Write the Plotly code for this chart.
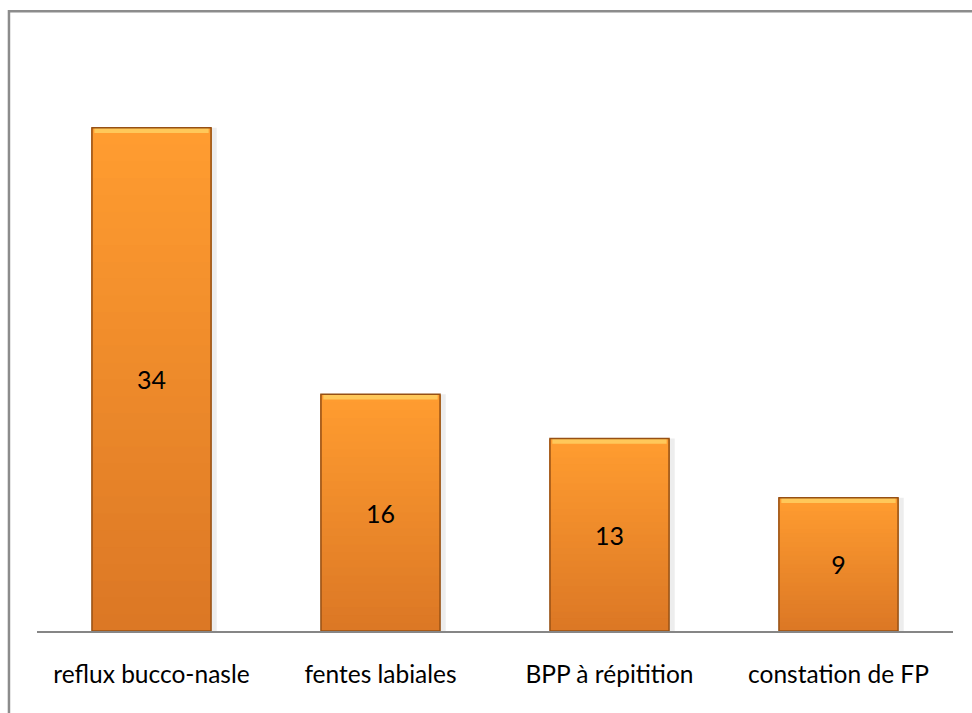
import plotly.graph_objects as go

categories = ["reflux bucco-nasle", "fentes labiales", "BPP à répitition", "constation de FP"]
values = [34, 16, 13, 9]

BAR_W = 0.52
N_BANDS = 30
BOTTOM_RGB = (220, 120, 37)
TOP_RGB = (255, 156, 48)


def mix(a, b, t):
    return "rgb({},{},{})".format(*[round(a[k] + (b[k] - a[k]) * t) for k in range(3)])


fig = go.Figure()

# soft drop shadow to the right of each bar
fig.add_trace(go.Bar(
    x=categories, y=values, width=BAR_W, offset=-BAR_W / 2 + 0.025,
    marker=dict(color="rgba(0,0,0,0.07)", line=dict(width=0)),
    hoverinfo="skip", showlegend=False,
))

# vertical gradient: each layer runs from its start height up to the bar top,
# later layers drawn over earlier ones so there are no seams
for i in range(N_BANDS):
    t = i / (N_BANDS - 1)
    fig.add_trace(go.Bar(
        x=categories,
        y=[v * (1 - i / N_BANDS) for v in values],
        base=[v * i / N_BANDS for v in values],
        width=BAR_W,
        marker=dict(color=mix(BOTTOM_RGB, TOP_RGB, t), line=dict(width=0)),
        hoverinfo="skip", showlegend=False,
    ))

# light bevel at the top edge
fig.add_trace(go.Bar(
    x=categories, y=[0.35] * len(values), base=[v - 0.35 for v in values],
    width=BAR_W * 0.96,
    marker=dict(color="rgb(255,200,90)", line=dict(width=0)),
    hoverinfo="skip", showlegend=False,
))

# outline and value labels
fig.add_trace(go.Bar(
    x=categories, y=values, width=BAR_W,
    marker=dict(color="rgba(0,0,0,0)", line=dict(color="rgb(150,80,20)", width=1.5)),
    text=[str(v) for v in values], textposition="inside", insidetextanchor="middle",
    textfont=dict(family="Lato", size=25, color="black"),
    textangle=0, showlegend=False,
))

fig.update_layout(
    barmode="overlay",
    width=972, height=713,
    margin=dict(l=37, r=19, t=39, b=82),
    paper_bgcolor="white", plot_bgcolor="white",
    xaxis=dict(
        showline=True, linecolor="#868686", linewidth=1.5,
        showgrid=False, ticks="", ticklabelstandoff=21,
        tickfont=dict(family="Lato", size=24.5, color="black"),
        range=[-0.5, 3.5],
    ),
    yaxis=dict(visible=False, range=[0, 40], showgrid=False),
    uniformtext=dict(mode=False),
    shapes=[dict(
        type="rect", xref="paper", yref="paper",
        x0=-0.0306, x1=1.2, y0=-0.3, y1=1.047,
        line=dict(color="#8c8c8c", width=2.5), fillcolor="rgba(0,0,0,0)",
        layer="below",
    )],
)

fig.write_html("out.html")
